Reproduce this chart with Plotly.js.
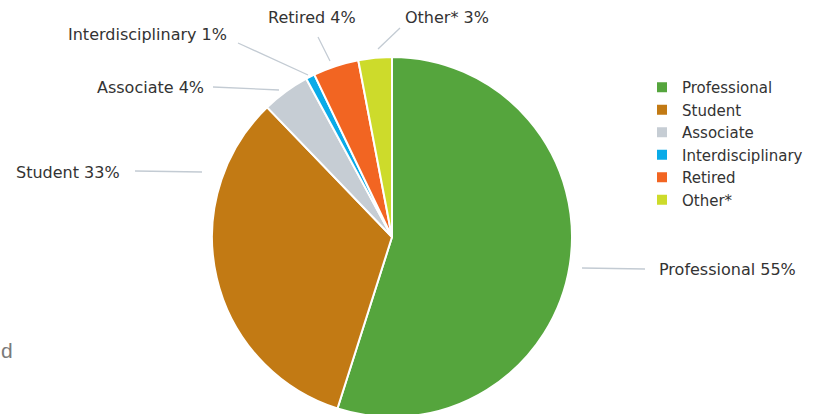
<!DOCTYPE html>
<html>
<head>
<meta charset="utf-8">
<script src="https://cdn.plot.ly/plotly-3.0.1.min.js"></script>
<style>
html,body{margin:0;padding:0;overflow:hidden;background:#fff;}
#chart{width:823px;height:474px;}
</style>
</head>
<body>
<div id="chart"></div>
<script>
// ---- data ----
const categories = ["Professional", "Student", "Associate", "Interdisciplinary", "Retired", "Other*"];
const shares = [54.9, 32.9, 4.3, 0.8, 4.1, 3.0];
const shownPercent = ["55%", "33%", "4%", "1%", "4%", "3%"];

// ---- style ----
const colors = ["#55a53d", "#c27a14", "#c6cdd4", "#0aabe8", "#f26522", "#cddb2b"];
const FONT = "DejaVu Sans, Verdana, sans-serif";
const W = 823, H = 474;
const px = x => x / W;
const py = y => 1 - y / H;

// label placement (pixel positions) : text anchor + leader line
const labelPos = [
  {tx: 657, ty: 269, xa: "left",   l: [582, 268, 645, 269]},
  {tx: 122, ty: 172, xa: "right",  l: [135, 171, 202, 172]},
  {tx: 206, ty: 88,  xa: "right",  l: [213, 87, 279, 90]},
  {tx: 229, ty: 34,  xa: "right",  l: [238, 43, 308, 75]},
  {tx: 312, ty: 18,  xa: "center", l: [318, 37, 330, 61]},
  {tx: 403, ty: 18,  xa: "left",   l: [400, 28, 378, 49]}
];

const annotations = categories.map((c, i) => ({
  text: c + " " + shownPercent[i],
  x: px(labelPos[i].tx), y: py(labelPos[i].ty),
  xref: "paper", yref: "paper",
  xanchor: labelPos[i].xa, yanchor: "middle",
  showarrow: false,
  font: {family: FONT, size: 16, color: "#333333"}
}));
annotations.push({
  text: "d", x: px(0), y: py(350), xref: "paper", yref: "paper",
  xanchor: "left", yanchor: "middle", showarrow: false, borderpad: 0,
  font: {family: "Liberation Sans, Arial, sans-serif", size: 21, color: "#7a7a7a"}
});

const shapes = labelPos.map(p => ({
  type: "line", xref: "paper", yref: "paper",
  x0: px(p.l[0]), y0: py(p.l[1]), x1: px(p.l[2]), y1: py(p.l[3]),
  line: {color: "#c3cbd3", width: 1.3}
}));

const trace = {
  type: "pie",
  labels: categories,
  values: shares,
  sort: false,
  direction: "clockwise",
  rotation: 0,
  textinfo: "none",
  hoverinfo: "label+percent",
  marker: {colors: colors, line: {color: "#ffffff", width: 2}},
  domain: {x: [px(212), px(572)], y: [py(417), py(57)]}
};

const layout = {
  width: W, height: H,
  margin: {l: 0, r: 0, t: 0, b: 0},
  paper_bgcolor: "#ffffff",
  showlegend: true,
  legend: {
    x: px(642), y: py(71), xanchor: "left", yanchor: "top",
    font: {family: FONT, size: 15, color: "#333333"},
    tracegroupgap: 0, itemclick: false
  },
  annotations: annotations,
  shapes: shapes
};

Plotly.newPlot("chart", [trace], layout, {displayModeBar: false, staticPlot: true});
</script>
</body>
</html>
